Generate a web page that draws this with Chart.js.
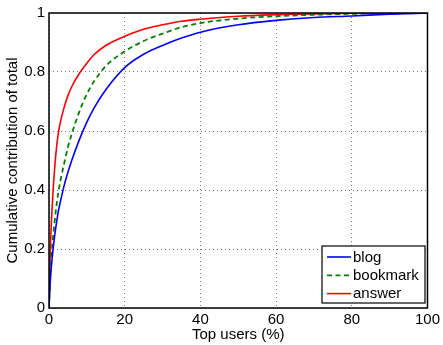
<!DOCTYPE html>
<html>
<head>
<meta charset="utf-8">
<script src="https://cdn.jsdelivr.net/npm/chart.js@4/dist/chart.umd.min.js"></script>
<style>
  html,body{margin:0;padding:0;background:#fff;}
  #wrap{width:443px;height:345px;}
</style>
</head>
<body>
<div id="wrap"><canvas id="c" width="443" height="345"></canvas></div>
<script>
// share of users (%) on x, cumulative contribution on y
const xPercent      = [0, 0.25, 0.5, 1, 1.5, 2, 2.5, 3, 4, 5, 6, 8, 10, 12, 15, 20, 25, 30, 35, 40, 50, 60, 70, 80, 90, 100];
const blogShare     = [0, 0.07, 0.12, 0.19, 0.245, 0.29, 0.33, 0.36, 0.415, 0.46, 0.50, 0.57, 0.63, 0.68, 0.74, 0.815, 0.86, 0.89, 0.915, 0.935, 0.96, 0.975, 0.985, 0.99, 0.996, 1];
const bookmarkShare = [0, 0.09, 0.15, 0.23, 0.295, 0.35, 0.395, 0.43, 0.49, 0.545, 0.59, 0.665, 0.725, 0.77, 0.82, 0.87, 0.905, 0.93, 0.952, 0.966, 0.981, 0.989, 0.994, 0.997, 0.999, 1];
const answerShare   = [0, 0.15, 0.25, 0.38, 0.475, 0.545, 0.595, 0.63, 0.68, 0.72, 0.75, 0.795, 0.83, 0.86, 0.89, 0.921, 0.945, 0.96, 0.972, 0.979, 0.989, 0.994, 0.997, 0.999, 1, 1];
const xTicks = [0, 20, 40, 60, 80, 100];
const yTicks = [0, 0.2, 0.4, 0.6, 0.8, 1];

const FONT = 'Liberation Sans, Arial, Helvetica, sans-serif';
const pts = ys => xPercent.map((x,i)=>({x, y:ys[i]}));

// box around the plot + legend inside, like matlab
const boxAndLegend = {
  id:'boxAndLegend',
  afterDraw(chart){
    const {ctx, chartArea:a} = chart;
    ctx.save();
    ctx.strokeStyle='#000'; ctx.lineWidth=1.5; ctx.setLineDash([]);
    ctx.strokeRect(a.left, a.top, a.right-a.left, a.bottom-a.top);
    // legend
    const lx=322, ly=246, lw=103, lh=57;
    ctx.fillStyle='#fff'; ctx.fillRect(lx,ly,lw,lh);
    ctx.lineWidth=1.2; ctx.strokeStyle='#000'; ctx.strokeRect(lx,ly,lw,lh);
    ctx.font='15px '+FONT; ctx.textBaseline='middle'; ctx.textAlign='left';
    chart.data.datasets.forEach((ds,i)=>{
      const y=ly+11+i*18.3;
      ctx.strokeStyle=ds.borderColor; ctx.lineWidth=ds.borderWidth;
      ctx.setLineDash(ds.borderDash||[]);
      ctx.beginPath(); ctx.moveTo(lx+5,y); ctx.lineTo(lx+29,y); ctx.stroke();
      ctx.setLineDash([]);
      ctx.fillStyle='#000'; ctx.fillText(ds.label, lx+31, y+0.5);
    });
    ctx.restore();
  }
};

new Chart(document.getElementById('c'),{
  type:'line',
  data:{datasets:[
    {label:'blog', data:pts(blogShare), borderColor:'#0000ff', borderWidth:1.6},
    {label:'bookmark', data:pts(bookmarkShare), borderColor:'#008000', borderWidth:1.8, borderDash:[5,3.5]},
    {label:'answer', data:pts(answerShare), borderColor:'#ff0000', borderWidth:1.6}
  ].map(d=>({...d, pointRadius:0, fill:false, cubicInterpolationMode:'monotone'}))},
  options:{
    responsive:false, animation:false, events:[],
    layout:{padding:{top:8,right:14,left:0,bottom:0}},
    plugins:{legend:{display:false}, tooltip:{enabled:false}},
    scales:{
      x:{type:'linear', min:0, max:100,
        afterBuildTicks:s=>{s.ticks=xTicks.map(v=>({value:v}));},
        afterFit:s=>{s.height=37;},
        grid:{color:'#777', lineWidth:1, drawTicks:false},
        border:{display:false, dash:[1,3]},
        ticks:{color:'#000', font:{family:FONT,size:15}, padding:3, maxRotation:0},
        title:{display:true, text:'Top users (%)', color:'#000', font:{family:FONT,size:15}, padding:{top:0,bottom:1}}
      },
      y:{min:0, max:1,
        afterBuildTicks:s=>{s.ticks=yTicks.map(v=>({value:v}));},
        afterFit:s=>{s.width=49;},
        grid:{color:'#777', lineWidth:1, drawTicks:false},
        border:{display:false, dash:[1,3]},
        ticks:{color:'#000', font:{family:FONT,size:15}, padding:4, callback:v=>String(+v.toFixed(1))},
        title:{display:true, text:'Cumulative contribution of total', color:'#000', font:{family:FONT,size:15}, padding:{top:4,bottom:0}}
      }
    }
  },
  plugins:[boxAndLegend]
});
</script>
</body>
</html>
